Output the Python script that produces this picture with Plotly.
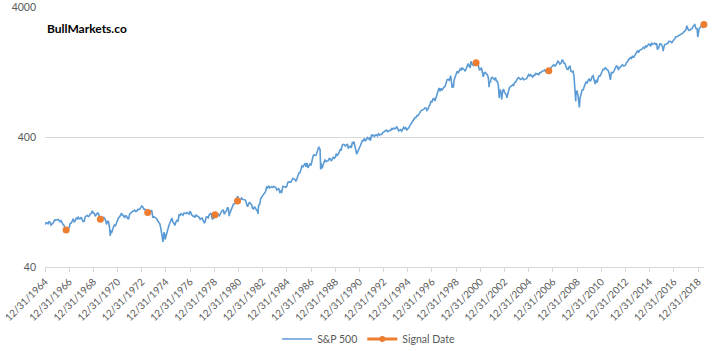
import pandas as pd
import plotly.graph_objects as go

# Monthly S&P 500 closes (12/1964 .. 06/2019)
start_value = [84.75]
sp_monthly = [
    # 1965
    87.56, 87.43, 86.16, 89.11, 88.42, 84.12, 85.25, 87.17, 89.96, 92.42, 91.61, 92.43,
    # 1966
    92.88, 91.22, 89.23, 91.06, 86.13, 84.74, 83.60, 77.10, 76.56, 80.20, 80.45, 80.33,
    # 1967
    86.61, 86.78, 90.20, 94.01, 89.08, 90.64, 94.75, 93.64, 96.71, 93.90, 94.00, 96.47,
    # 1968
    92.24, 89.36, 90.20, 97.59, 98.68, 99.58, 97.74, 98.86, 102.67, 103.41, 108.37, 103.86,
    # 1969
    103.01, 98.13, 101.51, 103.69, 103.46, 97.71, 91.83, 95.51, 93.12, 97.24, 93.81, 92.06,
    # 1970
    85.02, 89.50, 89.63, 81.52, 76.55, 72.72, 78.05, 81.52, 84.21, 83.25, 87.20, 92.15,
    # 1971
    95.88, 96.75, 100.31, 103.95, 99.63, 99.70, 95.58, 99.03, 98.34, 94.23, 93.99, 102.09,
    # 1972
    103.94, 106.57, 107.20, 107.67, 109.53, 107.14, 107.39, 111.09, 110.55, 111.58, 116.67, 118.05,
    # 1973
    116.03, 111.68, 111.52, 106.97, 104.95, 104.26, 108.22, 104.25, 108.43, 108.29, 95.96, 97.55,
    # 1974
    96.57, 96.22, 93.98, 90.31, 87.28, 86.00, 79.31, 72.15, 63.54, 73.90, 69.97, 68.56,
    # 1975
    76.98, 81.59, 83.36, 87.30, 91.15, 95.19, 88.75, 86.88, 83.87, 89.04, 91.24, 90.19,
    # 1976
    100.86, 99.71, 102.77, 101.64, 100.18, 104.28, 103.44, 102.91, 105.24, 102.90, 102.10, 107.46,
    # 1977
    102.03, 99.82, 98.42, 98.44, 96.12, 100.48, 98.85, 96.77, 96.53, 92.34, 94.83, 95.10,
    # 1978
    89.25, 87.04, 89.21, 96.83, 97.24, 95.53, 100.68, 103.29, 102.54, 93.15, 94.70, 96.11,
    # 1979
    99.93, 96.28, 101.59, 101.76, 99.08, 102.91, 103.81, 109.32, 109.32, 101.82, 106.16, 107.94,
    # 1980
    114.16, 113.66, 102.09, 106.29, 111.24, 114.24, 121.67, 122.38, 125.46, 127.47, 140.52, 135.76,
    # 1981
    129.55, 131.27, 136.00, 132.81, 132.59, 131.21, 130.92, 122.79, 116.18, 121.89, 126.35, 122.55,
    # 1982
    120.40, 113.11, 111.96, 116.44, 111.88, 109.61, 107.09, 119.51, 120.42, 133.71, 138.54, 140.64,
    # 1983
    145.30, 148.06, 152.96, 164.42, 162.39, 168.11, 162.56, 164.40, 166.07, 163.55, 166.40, 164.93,
    # 1984
    163.41, 157.06, 159.18, 160.05, 150.55, 153.18, 150.66, 166.68, 166.10, 166.09, 163.58, 167.24,
    # 1985
    179.63, 181.18, 180.66, 179.83, 189.55, 191.85, 190.92, 188.63, 182.08, 189.82, 202.17, 211.28,
    # 1986
    211.78, 226.92, 238.90, 235.52, 247.35, 250.84, 236.12, 252.93, 231.32, 243.98, 249.22, 242.17,
    # 1987
    274.08, 284.20, 291.70, 288.36, 290.10, 304.00, 318.66, 329.80, 321.83, 251.79, 230.30, 247.08,
    # 1988
    257.07, 267.82, 258.89, 261.33, 262.16, 273.50, 272.02, 261.52, 271.91, 278.97, 273.70, 277.72,
    # 1989
    297.47, 288.86, 294.87, 309.64, 320.52, 317.98, 346.08, 351.45, 349.15, 340.36, 345.99, 353.40,
    # 1990
    329.08, 331.89, 339.94, 330.80, 361.23, 358.02, 356.15, 322.56, 306.05, 304.00, 322.22, 330.22,
    # 1991
    343.93, 367.07, 375.22, 375.35, 389.83, 371.16, 387.81, 395.43, 387.86, 392.46, 375.22, 417.09,
    # 1992
    408.79, 412.70, 403.69, 414.95, 415.35, 408.14, 424.21, 414.03, 417.80, 418.68, 431.35, 435.71,
    # 1993
    438.78, 443.38, 451.67, 440.19, 450.19, 450.53, 448.13, 463.56, 458.93, 467.83, 461.79, 466.45,
    # 1994
    481.61, 467.14, 445.77, 450.91, 456.50, 444.27, 458.26, 475.49, 462.69, 472.35, 453.69, 459.27,
    # 1995
    470.42, 487.39, 500.71, 514.71, 533.40, 544.75, 562.06, 561.88, 584.41, 581.50, 605.37, 615.93,
    # 1996
    636.02, 640.43, 645.50, 654.17, 669.12, 670.63, 639.95, 651.99, 687.31, 705.27, 757.02, 740.74,
    # 1997
    786.16, 790.82, 757.12, 801.34, 848.28, 885.14, 954.29, 899.47, 947.28, 914.62, 955.40, 970.43,
    # 1998
    980.28, 1049.34, 1101.75, 1111.75, 1090.82, 1133.84, 1120.67, 957.28, 1017.01, 1098.67, 1163.63, 1229.23,
    # 1999
    1279.64, 1238.33, 1286.37, 1335.18, 1301.84, 1372.71, 1328.72, 1320.41, 1282.71, 1362.93, 1388.91, 1469.25,
    # 2000
    1394.46, 1366.42, 1498.58, 1452.43, 1420.60, 1454.60, 1430.83, 1517.68, 1436.51, 1429.40, 1314.95, 1320.28,
    # 2001
    1366.01, 1239.94, 1160.33, 1249.46, 1255.82, 1224.42, 1211.23, 1133.58, 1040.94, 1059.78, 1139.45, 1148.08,
    # 2002
    1130.20, 1106.73, 1147.39, 1076.92, 1067.14, 989.82, 911.62, 916.07, 815.28, 885.76, 936.31, 879.82,
    # 2003
    855.70, 841.15, 849.18, 916.92, 963.59, 974.50, 990.31, 1008.01, 995.97, 1050.71, 1058.20, 1111.92,
    # 2004
    1131.13, 1144.94, 1126.21, 1107.30, 1120.68, 1140.84, 1101.72, 1104.24, 1114.58, 1130.20, 1173.82, 1211.92,
    # 2005
    1181.27, 1203.60, 1180.59, 1156.85, 1191.50, 1191.33, 1234.18, 1220.33, 1228.81, 1207.01, 1249.48, 1248.29,
    # 2006
    1280.08, 1280.66, 1294.87, 1310.61, 1270.09, 1270.20, 1276.66, 1303.82, 1335.85, 1377.94, 1400.63, 1418.30,
    # 2007
    1438.24, 1406.82, 1420.86, 1482.37, 1530.62, 1503.35, 1455.27, 1473.99, 1526.75, 1549.38, 1481.14, 1468.36,
    # 2008
    1378.55, 1330.63, 1322.70, 1385.59, 1400.38, 1280.00, 1267.38, 1282.83, 1166.36, 968.75, 896.24, 903.25,
    # 2009
    825.88, 735.09, 797.87, 872.81, 919.14, 919.32, 987.48, 1020.62, 1057.08, 1036.19, 1095.63, 1115.10,
    # 2010
    1073.87, 1104.49, 1169.43, 1186.69, 1089.41, 1030.71, 1101.60, 1049.33, 1141.20, 1183.26, 1180.55, 1257.64,
    # 2011
    1286.12, 1327.22, 1325.83, 1363.61, 1345.20, 1320.64, 1292.28, 1218.89, 1131.42, 1253.30, 1246.96, 1257.60,
    # 2012
    1312.41, 1365.68, 1408.47, 1397.91, 1310.33, 1362.16, 1379.32, 1406.58, 1440.67, 1412.16, 1416.18, 1426.19,
    # 2013
    1498.11, 1514.68, 1569.19, 1597.57, 1630.74, 1606.28, 1685.73, 1632.97, 1681.55, 1756.54, 1805.81, 1848.36,
    # 2014
    1782.59, 1859.45, 1872.34, 1883.95, 1923.57, 1960.23, 1930.67, 2003.37, 1972.29, 2018.05, 2067.56, 2058.90,
    # 2015
    1994.99, 2104.50, 2067.89, 2085.51, 2107.39, 2063.11, 2103.84, 1972.18, 1920.03, 2079.36, 2080.41, 2043.94,
    # 2016
    1940.24, 1932.23, 2059.74, 2065.30, 2096.95, 2098.86, 2173.60, 2170.95, 2168.27, 2126.15, 2198.81, 2238.83,
    # 2017
    2278.87, 2363.64, 2362.72, 2384.20, 2411.80, 2423.41, 2470.30, 2471.65, 2519.36, 2575.26, 2647.58, 2673.61,
    # 2018
    2823.81, 2713.83, 2640.87, 2648.05, 2705.27, 2718.37, 2816.29, 2901.52, 2913.98, 2711.74, 2760.17, 2506.85,
    # 2019
    2704.10, 2784.49, 2834.40, 2945.83, 2752.06, 2941.76,
]

# Intra-month extremes visible in the chart
extreme_dates = [
    "1966-10-07", "1970-05-26", "1974-10-03", "1974-12-06", "1978-03-06",
    "1980-03-27", "1982-08-12", "1984-07-24", "1987-08-25", "1987-10-19",
    "1990-07-16", "1990-10-11", "1998-07-17", "1998-10-08", "2000-03-24",
    "2001-09-21", "2002-07-23", "2002-10-09", "2003-03-11", "2007-10-09",
    "2008-11-20", "2009-03-09", "2010-07-02", "2011-10-03", "2015-08-25",
    "2016-02-11", "2018-01-26", "2018-09-20", "2018-12-24", "2019-05-03",
]
extreme_values = [
    73.20, 69.29, 62.28, 65.01, 86.90,
    98.22, 102.42, 147.82, 336.77, 224.84,
    368.95, 295.46, 1186.75, 959.44, 1527.46,
    965.80, 797.70, 776.76, 800.73, 1565.15,
    752.44, 676.53, 1022.58, 1099.23, 1867.61,
    1829.08, 2872.87, 2930.75, 2351.10, 2945.64,
]

signal_dates = [
    "1966-09-30", "1969-07-31", "1973-06-29", "1979-01-22",
    "1980-12-01", "2000-08-25", "2006-08-29", "2019-06-28",
]
signal_values = [77, 93, 105, 101, 129, 1490, 1295, 2930]

tick_dates = [f"{y}-12-31" for y in range(1964, 2019, 2)]
y_ticks = [40, 400, 4000]

# Build series
monthly_dates = pd.date_range("1964-12-31", periods=len(start_value) + len(sp_monthly), freq="ME")
df = pd.DataFrame({"date": monthly_dates, "value": start_value + sp_monthly})
ext = pd.DataFrame({"date": pd.to_datetime(extreme_dates), "value": extreme_values})
df = pd.concat([df, ext]).sort_values("date").reset_index(drop=True)

GRAY = "#595959"
BLUE = "#5B9BD5"
ORANGE = "#ED7D31"
fig = go.Figure()
fig.add_trace(go.Scatter(
    x=df["date"], y=df["value"], mode="lines", name="S&P 500",
    line=dict(color=BLUE, width=1.6), showlegend=True,
))
fig.add_trace(go.Scatter(
    x=pd.to_datetime(signal_dates), y=signal_values, mode="markers", name="Signal Date",
    marker=dict(color=ORANGE, size=7), cliponaxis=False, showlegend=False,
))
# legend entry for signals (line + marker, as in the source legend)
fig.add_trace(go.Scatter(
    x=[None], y=[None], mode="lines+markers", name="Signal Date",
    line=dict(color=ORANGE, width=3), marker=dict(color=ORANGE, size=6),
))

fig.update_layout(
    width=720, height=351,
    margin=dict(l=45, r=16, t=7, b=84, autoexpand=False),
    paper_bgcolor="white", plot_bgcolor="white",
    font=dict(family="Lato, Open Sans, sans-serif", color=GRAY, size=10),
    showlegend=True,
    legend=dict(orientation="h", x=0.512, xanchor="center", xref="container",
                y=(351 - 339) / 351, yanchor="middle", yref="container",
                font=dict(size=10.5, color=GRAY), itemwidth=30, tracegroupgap=0),
    annotations=[dict(text="<b>BullMarkets.co</b>", x=0.0, xref="paper", xanchor="left",
                      y=1 - (28 - 7) / 260, yref="paper", yanchor="middle", showarrow=False,
                      font=dict(size=12, color="black"))],
)

fig.update_xaxes(
    type="date", range=["1964-12-31", "2019-06-30"], automargin=False,
    tickmode="array", tickvals=tick_dates, tickformat="%m/%d/%Y", tickangle=-45,
    ticks="outside", ticklen=4, tickcolor="#D9D9D9",
    showline=True, linecolor="#D9D9D9", linewidth=1,
    showgrid=False, zeroline=False, tickfont=dict(size=10, color=GRAY),
)
fig.update_yaxes(
    type="log", range=[1.60206, 3.60206], automargin=False,
    tickmode="array", tickvals=y_ticks, ticktext=[str(v) for v in y_ticks],
    showgrid=True, gridcolor="#D9D9D9", gridwidth=1,
    showline=False, zeroline=False, ticks="", ticklabelstandoff=8,
    tickfont=dict(size=10.5, color=GRAY),
)

fig.write_html("out.html")
